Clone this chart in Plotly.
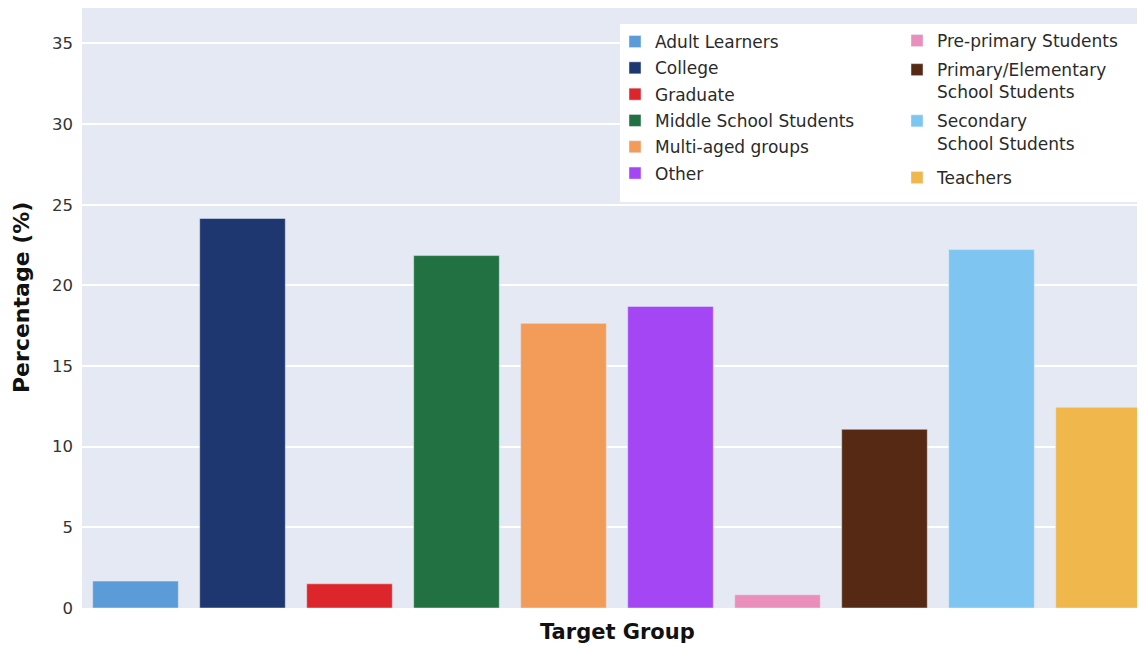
import plotly.graph_objects as go

categories = ["Adult Learners", "College", "Graduate", "Middle School Students",
              "Multi-aged groups", "Other", "Pre-primary Students",
              "Primary/Elementary<br>School Students", "Secondary<br>School Students", "Teachers"]
values = [1.67, 24.15, 1.5, 21.85, 17.65, 18.7, 0.82, 11.08, 22.22, 12.45]
colors = ["#5B9BD8", "#1F3770", "#DD262B", "#217142", "#F39C5A",
          "#A546F5", "#EA8FBB", "#552914", "#7EC6F1", "#F0B84C"]
legend_of = ["legend"] * 6 + ["legend2"] * 3 + ["legend3"]

FONT = "DejaVu Sans, sans-serif"
OFF = 8  # page body margin
W, H = 1145 - OFF, 648 - OFF
ML, MR, MT, MB = 82 - OFF, 0, 0, 40
pw = W - ML - MR
ph = H - MT - MB

def px(xp):
    return (xp - OFF - ML) / pw

def py(yp):
    return (H - MB - (yp - OFF)) / ph

fig = go.Figure()
for i, (c, v, col) in enumerate(zip(categories, values, colors)):
    fig.add_trace(go.Bar(
        x=[i], y=[v], name=c,
        marker=dict(color=col, line=dict(color="#E5ECF6", width=0.5)),
        legend=legend_of[i],
        legendgroup=f"g{i}",
    ))

fig.add_shape(type="rect", xref="paper", yref="paper",
              x0=px(620), x1=px(1137), y0=py(202), y1=py(24),
              fillcolor="white", line=dict(width=0), layer="above")

fig.add_annotation(text="<b>Target Group</b>", xref="paper", yref="paper",
                   x=px(617), y=py(632), showarrow=False, yanchor="middle",
                   font=dict(size=21, color="#111111", family=FONT))
fig.add_annotation(text="<b>Percentage (%)</b>", xref="paper", yref="paper",
                   x=px(22), y=py(298), showarrow=False, textangle=-90,
                   xanchor="center", yanchor="middle",
                   font=dict(size=22, color="#111111", family=FONT))

leg_common = dict(xanchor="left", yanchor="top", bgcolor="rgba(0,0,0,0)",
                  font=dict(size=17, color="#2a2a2a"), valign="top")

fig.update_layout(
    width=W, height=H,
    margin=dict(l=ML, r=MR, t=MT, b=MB),
    plot_bgcolor="#E5E9F4", paper_bgcolor="white",
    barmode="overlay", bargap=0.2,
    font=dict(family=FONT, size=17, color="#2a2a2a"),
    xaxis=dict(range=[-0.5, -0.5 + pw / 107.0], showticklabels=False, showgrid=False,
               zeroline=False, fixedrange=True),
    yaxis=dict(range=[0, 37.2], tickvals=[0, 5, 10, 15, 20, 25, 30, 35],
               gridcolor="white", gridwidth=2, zeroline=False, ticklabelstandoff=8,
               tickfont=dict(size=16.5, color="#333333")),
    legend=dict(x=px(615), y=py(24), tracegroupgap=1.2, **leg_common),
    legend2=dict(x=px(897), y=py(23), tracegroupgap=4, **leg_common),
    legend3=dict(x=px(897), y=py(160), tracegroupgap=0, **leg_common),
    showlegend=True,
)

fig.write_html("out.html")
